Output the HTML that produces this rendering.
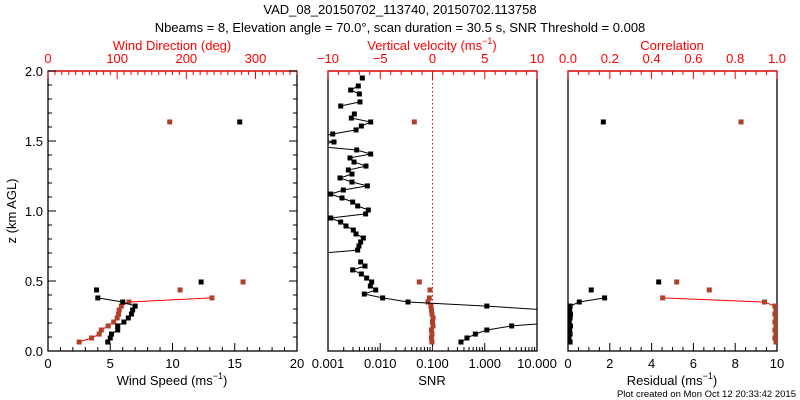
<!DOCTYPE html>
<html><head><meta charset="utf-8"><style>
body{margin:0;background:#fff;width:800px;height:400px;overflow:hidden}
svg{display:block;font-family:"Liberation Sans",sans-serif}
</style></head><body>
<svg id="chart" width="800" height="400" viewBox="0 0 800 400" xmlns="http://www.w3.org/2000/svg">
<rect width="800" height="400" fill="#fff"/>
<text x="400" y="14" font-size="13" text-anchor="middle">VAD_08_20150702_113740, 20150702.113758</text>
<text x="400" y="32" font-size="13" text-anchor="middle">Nbeams = 8, Elevation angle = 70.0°, scan duration = 30.5 s, SNR Threshold = 0.008</text>
<text transform="translate(16,211) rotate(-90)" font-size="13" text-anchor="middle">z (km AGL)</text>
<text x="796" y="397" font-size="9.5" text-anchor="end">Plot created on Mon Oct 12 20:33:42 2015</text>
<g id="layer"></g>
</svg>
<script>
// range gates (km AGL)
const gates=[0.064,0.093,0.121,0.150,0.179,0.207,0.236,0.264,0.293,0.321,0.350,0.379,0.407,0.436,0.464,0.493,0.521,0.550,0.579,0.607,0.636,0.664,0.693,0.721,0.750,0.779,0.807,0.836,0.864,0.893,0.921,0.950,0.979,1.007,1.036,1.064,1.093,1.121,1.150,1.179,1.207,1.236,1.264,1.293,1.321,1.350,1.379,1.407,1.436,1.464,1.493,1.521,1.550,1.579,1.607,1.636,1.664,1.693,1.721,1.750,1.779,1.807,1.836,1.864,1.893,1.921,1.950];
const N=null;
const windSpeed=[4.8,5.0,5.1,5.6,5.6,6.1,6.45,6.7,6.8,7.0,6.0,4.0,N,3.9,N,12.3,N,N,N,N,N,N,N,N,N,N,N,N,N,N,N,N,N,N,N,N,N,N,N,N,N,N,N,N,N,N,N,N,N,N,N,N,N,N,N,15.4,N,N,N,N,N,N,N,N,N,N,N];
const windDir=[45,63,74,77,87,95,100,102,103,106,117,237,N,191,N,282,N,N,N,N,N,N,N,N,N,N,N,N,N,N,N,N,N,N,N,N,N,N,N,N,N,N,N,N,N,N,N,N,N,N,N,N,N,N,N,176,N,N,N,N,N,N,N,N,N,N,N];
const logSnr=[-0.455,-0.34,-0.18,0.04,0.515,1.5,N,N,1.2,0.04,-1.469,-1.954,-2.305,-2.087,-2.19,-2.164,-2.26,-2.362,-2.528,-2.292,-2.375,N,-3.3,-2.432,-2.407,-2.375,-2.324,-2.464,-2.515,-2.656,-2.757,-2.948,-2.28,-2.228,-2.432,-2.528,-2.732,-2.948,-2.707,-2.247,-2.541,-2.77,-2.541,-2.611,-2.273,-2.502,-2.579,-2.183,-2.451,-3.3,-2.885,-3.3,-2.91,-2.464,-2.362,-2.183,-2.554,-2.496,N,-2.757,-2.388,N,-2.4,-2.566,-2.42,N,-2.343];
const wVel=[-0.05,-0.1,-0.05,-0.1,0.05,0.0,0.05,-0.05,-0.1,-0.15,-0.43,-0.3,N,-0.24,N,-1.26,N,N,N,N,N,N,N,N,N,N,N,N,N,N,N,N,N,N,N,N,N,N,N,N,N,N,N,N,N,N,N,N,N,N,N,N,N,N,N,-1.74,N,N,N,N,N,N,N,N,N,N,N];
const residual=[0.1,0.05,0.1,0.08,0.12,0.06,0.1,0.12,0.08,0.1,0.54,1.75,N,1.11,N,4.34,N,N,N,N,N,N,N,N,N,N,N,N,N,N,N,N,N,N,N,N,N,N,N,N,N,N,N,N,N,N,N,N,N,N,N,N,N,N,N,1.69,N,N,N,N,N,N,N,N,N,N,N];
const corr=[0.995,0.99,0.995,0.99,0.995,0.99,0.995,0.99,0.995,0.99,0.94,0.453,N,0.676,N,0.52,N,N,N,N,N,N,N,N,N,N,N,N,N,N,N,N,N,N,N,N,N,N,N,N,N,N,N,N,N,N,N,N,N,N,N,N,N,N,N,0.828,N,N,N,N,N,N,N,N,N,N,N];
const zTicks=["0.0","0.5","1.0","1.5","2.0"];
const speedTicks=["0","5","10","15","20"];
const dirTicks=["0","100","200","300"];
const snrTicks=["0.001","0.010","0.100","1.000","10.000"];
const wTicks=["\u221210","\u22125","0","5","10"];
const resTicks=["0","2","4","6","8","10"];
const corrTicks=["0.0","0.2","0.4","0.6","0.8","1.0"];

const NS="http://www.w3.org/2000/svg";
const L=document.getElementById('layer');
const RED="#ff0000",BR="#b0402a";
const Y0=351,Y1=71;
const yS=z=>Y0-(z/2)*(Y0-Y1);
function el(tag,at,parent){const e=document.createElementNS(NS,tag);for(const k in at)e.setAttribute(k,at[k]);(parent||L).appendChild(e);return e;}
function lin(d0,d1,p0,p1){return v=>p0+(v-d0)/(d1-d0)*(p1-p0);}
function txt(s,x,y,col,name,anchor){const t=el('text',{x:x,y:y,'font-size':13,fill:col,'text-anchor':anchor||'middle'});t.textContent=s;


return t;}
function line(x1,y1,x2,y2,col,name,w){const l=el('line',{x1:x1,y1:y1,x2:x2,y2:y2,stroke:col,'stroke-width':w||1});


return l;}
function frame(x0,x1,name){
  const r=el('rect',{x:x0,y:Y1,width:x1-x0,height:Y0-Y1,fill:'none',stroke:'#000','stroke-width':1.3});
  
  
  line(x0,Y1,x1,Y1,RED,name+'-top-axis',1.3);
  const cp=el('clipPath',{id:'c'+name});el('rect',{x:x0,y:Y1,width:x1-x0,height:Y0-Y1},cp);
}
function series(vals,xf,col,mcol,name,clip){
  const g=el('g',{'clip-path':'url(#c'+clip+')'});
  
  
  let pts=[];
  const flush=()=>{if(pts.length>1){const p=el('polyline',{points:pts.join(' '),fill:'none',stroke:col,'stroke-width':1},g);
    
    }pts=[];};
  vals.forEach((v,i)=>{if(v===null){flush();return;}const x=xf(v),y=yS(gates[i]);pts.push(x.toFixed(1)+','+y.toFixed(1));});
  flush();
  vals.forEach((v,i)=>{if(v===null)return;const m=el('rect',{x:xf(v)-2.5,y:yS(gates[i])-2.5,width:5,height:5,fill:mcol},g);
    
    });
}
// Panel 1
const P1=[48,297];
frame(P1[0],P1[1],'panel-wind');
const xSp=lin(0,20,P1[0],P1[1]), xDir=lin(0,360,P1[0],P1[1]);
for(let v=0;v<=20;v++){const x=xSp(v),len=v%5?4:8;line(x,Y0,x,Y0-len,'#000','speed-tick');}
speedTicks.forEach(s=>txt(s,xSp(+s),368,'#000','speed-tick-label'));
for(let v=0;v<=360;v+=10){const x=xDir(v),len=v%100?4:8;line(x,Y1,x,Y1+len,RED,'dir-tick');}
dirTicks.forEach(s=>txt(s,xDir(+s),63,RED,'dir-tick-label'));
for(let i=0;i<=20;i++){const y=yS(i/10),len=i%5?4:8;line(P1[0],y,P1[0]+len,y,'#000','z-tick');line(P1[1],y,P1[1]-len,y,'#000','z-tick-right');}
zTicks.forEach(s=>txt(s,43,yS(+s)+5,'#000','z-tick-label','end'));
txt('Wind Direction (deg)',172,50,RED,'dir-axis-title');
const t1=txt('Wind Speed (ms',172,385,'#000','speed-axis-title');
t1.innerHTML='Wind Speed (ms<tspan font-size="9" dy="-6">\u22121</tspan><tspan dy="6">)</tspan>';
series(windDir,xDir,RED,BR,'wind-direction','panel-wind');
series(windSpeed,xSp,'#000','#000','wind-speed','panel-wind');
// Panel 2
const P2=[328,537];
frame(P2[0],P2[1],'panel-snr');
const xSn=lin(-3,1,P2[0],P2[1]), xW=lin(-10,10,P2[0],P2[1]);
for(let d=-3;d<1;d++)for(let m=1;m<10;m++){const x=xSn(d+Math.log10(m)),len=m==1?8:4;line(x,Y0,x,Y0-len,'#000','snr-tick');}
snrTicks.forEach((s,i)=>txt(s,xSn(i-3),368,'#000','snr-tick-label'));
for(let v=-10;v<=10;v++){const x=xW(v),len=v%5?4:8;line(x,Y1,x,Y1+len,RED,'w-tick');}
wTicks.forEach((s,i)=>txt(s,xW(-10+5*i),63,RED,'w-tick-label'));
const zl=line(xW(0),Y1,xW(0),Y0,RED,'zero-velocity-line');zl.setAttribute('stroke-dasharray','1.5,2.5');
const t2=txt('',432,50,RED,'w-axis-title');
t2.innerHTML='Vertical velocity (ms<tspan font-size="9" dy="-6">\u22121</tspan><tspan dy="6">)</tspan>';
txt('SNR',432,385,'#000','snr-axis-title');
series(wVel,xW,BR,BR,'vertical-velocity','panel-snr');
series(logSnr,xSn,'#000','#000','snr','panel-snr');
// Panel 3
const P3=[568,777];
frame(P3[0],P3[1],'panel-residual');
const xR=lin(0,10,P3[0],P3[1]), xC=lin(0,1,P3[0],P3[1]);
for(let i=0;i<=20;i++){const x=xR(i/2),len=i%4?4:8;line(x,Y0,x,Y0-len,'#000','res-tick');}
resTicks.forEach(s=>txt(s,xR(+s),368,'#000','res-tick-label'));
for(let i=0;i<=20;i++){const x=xC(i/20),len=i%4?4:8;line(x,Y1,x,Y1+len,RED,'corr-tick');}
corrTicks.forEach(s=>txt(s,xC(+s),63,RED,'corr-tick-label'));
txt('Correlation',672,50,RED,'corr-axis-title');
const t3=txt('',672,385,'#000','res-axis-title');
t3.innerHTML='Residual (ms<tspan font-size="9" dy="-6">\u22121</tspan><tspan dy="6">)</tspan>';
series(corr,xC,RED,BR,'correlation','panel-residual');
series(residual,xR,'#000','#000','residual','panel-residual');
</script>
</body></html>
